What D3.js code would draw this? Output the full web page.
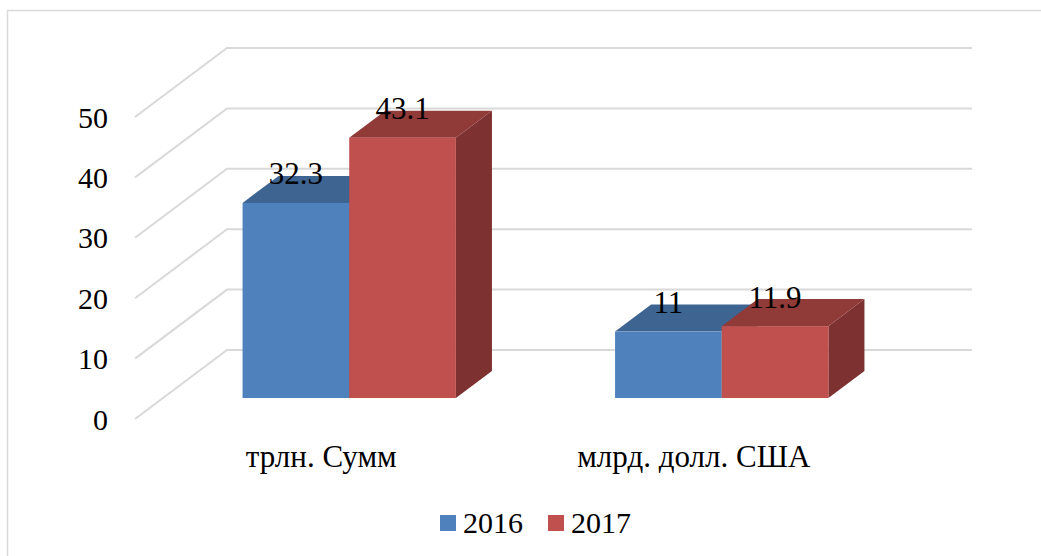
<!DOCTYPE html>
<html>
<head>
<meta charset="utf-8">
<script src="https://cdn.jsdelivr.net/npm/d3@7"></script>
<style>
  body { margin: 0; background: #fff; }
</style>
</head>
<body>
<svg id="chart" width="1041" height="556" font-family="'Liberation Serif', Tinos, 'Times New Roman', Times, 'DejaVu Serif', serif"></svg>
<script>
// data
const categories = ['трлн. Сумм', 'млрд. долл. США']
const seriesNames = ['2016', '2017']
const values2016 = [32.3, 11]
const values2017 = [43.1, 11.9]
const yTicks = [0, 10, 20, 30, 40, 50]

const colors = {
  '2016': { front: '#4f81bd', top: '#3e6491', side: '#37587f' },
  '2017': { front: '#c0504d', top: '#913b39', side: '#7d3130' }
}

const svg = d3.select('#chart')

// 3d depth helper: d=0 front of floor, d=1 back wall
const depthX = 92, depthY = -69
function sh(d) { return [depthX * d, depthY * d] }
const barFront = 0.304, barBack = 0.696

const y = d3.scaleLinear().domain([0, 50]).range([419, 117])
const x0 = d3.scaleBand().domain(categories).range([135, 880])
const x1 = d3.scaleBand().domain(seriesNames)
  .range([0, x0.bandwidth() * 0.5727]).padding(0)

// chart border
svg.append('rect')
  .attr('x', 7.5).attr('y', 10.5)
  .attr('width', 1100).attr('height', 600)
  .attr('fill', 'none').attr('stroke', '#d9d9d9').attr('stroke-width', 1.5)

// walls: back gridlines + left side diagonals
const grid = svg.append('g').attr('stroke', '#d9d9d9').attr('stroke-width', 2).attr('fill', 'none')
const [bx, by] = sh(1)
yTicks.forEach(t => {
  grid.append('polyline')
    .attr('points', [
      [x0.range()[0], y(t)],
      [x0.range()[0] + bx, y(t) + by],
      [x0.range()[1] + bx, y(t) + by]
    ].map(p => p.join(',')).join(' '))
})

// y tick labels
svg.append('g').selectAll('text')
  .data(yTicks)
  .join('text')
  .attr('x', 108)
  .attr('y', d => y(d))
  .attr('dy', '0.35em')
  .attr('text-anchor', 'end')
  .attr('font-size', 30)
  .text(d => d)

// bars
const bars = []
categories.forEach((c, i) => {
  bars.push({ cat: c, s: '2016', v: values2016[i] })
  bars.push({ cat: c, s: '2017', v: values2017[i] })
})

const pairOffset = (x0.bandwidth() - x1.range()[1]) / 2
const g = svg.append('g')
bars.forEach(b => {
  const [fx, fy] = sh(barFront)
  const [kx, ky] = sh(barBack)
  const left = x0(b.cat) + pairOffset + x1(b.s)
  const right = left + x1.bandwidth()
  const yb = y(0), yt = y(b.v)
  const col = colors[b.s]
  const pts = a => a.map(p => p.join(',')).join(' ')
  // side
  g.append('polygon')
    .attr('points', pts([[right + fx, yt + fy], [right + kx, yt + ky], [right + kx, yb + ky], [right + fx, yb + fy]]))
    .attr('fill', col.side)
  // top
  g.append('polygon')
    .attr('points', pts([[left + fx, yt + fy], [right + fx, yt + fy], [right + kx, yt + ky], [left + kx, yt + ky]]))
    .attr('fill', col.top)
  // front
  g.append('rect')
    .attr('x', left + fx).attr('y', yt + fy)
    .attr('width', right - left).attr('height', yb - yt)
    .attr('fill', col.front)
  b.lx = (left + right) / 2 + fx
  b.ly = yt + fy - 18.5
})

// value labels
svg.append('g').selectAll('text')
  .data(bars)
  .join('text')
  .attr('x', d => d.lx)
  .attr('y', d => d.ly)
  .attr('text-anchor', 'middle')
  .attr('font-size', 31)
  .text(d => d.v)

// category labels
svg.append('g').selectAll('text')
  .data(categories)
  .join('text')
  .attr('x', d => x0(d) + x0.bandwidth() / 2)
  .attr('y', 467)
  .attr('text-anchor', 'middle')
  .attr('font-size', 31)
  .text(d => d)

// legend
const legend = svg.append('g')
const legendX = [440, 548]
seriesNames.forEach((s, i) => {
  legend.append('rect')
    .attr('x', legendX[i]).attr('y', 515)
    .attr('width', 16).attr('height', 16)
    .attr('fill', colors[s].front)
  legend.append('text')
    .attr('x', legendX[i] + 23).attr('y', 533)
    .attr('font-size', 30)
    .text(s)
})
</script>
</body>
</html>
